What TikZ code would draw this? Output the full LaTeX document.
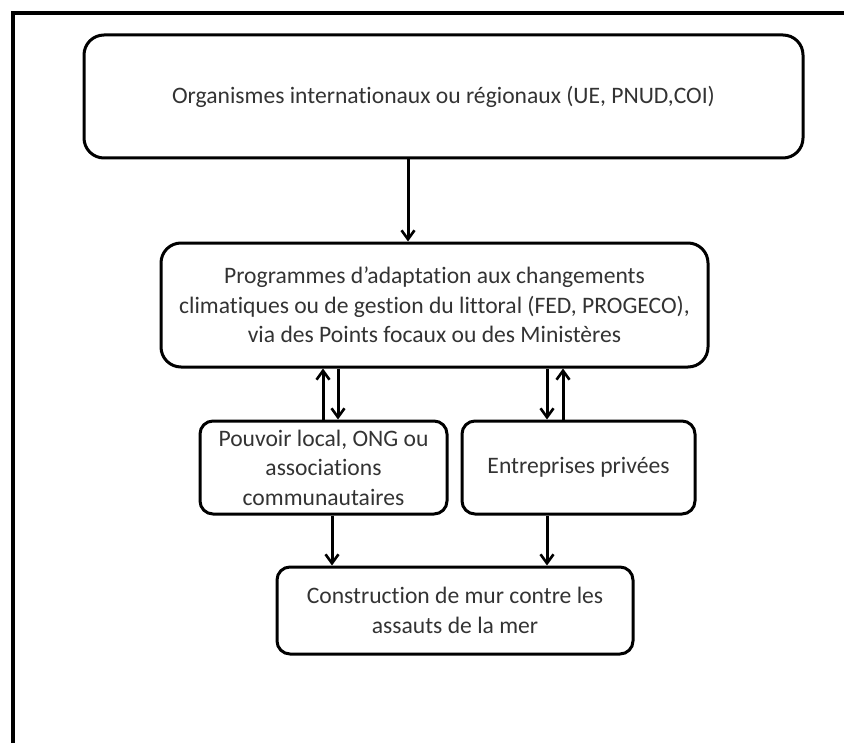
\documentclass[tikz,border=0pt]{standalone}
\usepackage{fontspec}
\setmainfont{Carlito}[Ligatures=NoCommon]
\usetikzlibrary{arrows.meta}
\begin{document}
\begin{tikzpicture}[x=0.5pt,y=-0.5pt,
  box/.style={draw=black, line width=1.5pt, rounded corners=#1, align=center,
    text=black!80, font=\fontsize{11.8}{14.7}\selectfont, inner sep=0pt},
  box/.default=9pt,
  arr/.style={line width=1.5pt, -{Straight Barb[length=4.5pt,width=6.5pt,line width=1.3pt]}},
  framestyle/.style={line width=2.3pt}]
\useasboundingbox (0,0) rectangle (844,743);
\draw[framestyle] (13,743) -- (13,13) -- (844,13);

\node[box=10pt, minimum width=359.5pt, minimum height=61.5pt] (org) at (443.5,96.5)
  {Organismes internationaux ou régionaux (UE, PNUD,COI)};
\node[box=10pt, minimum width=273.5pt, minimum height=62pt] (prog) at (434.5,305)
  {Programmes d’adaptation aux changements\\climatiques ou de gestion du littoral (FED, PROGECO),\\via des Points focaux ou des Ministères};
\node[box=6.5pt, minimum width=123.5pt, minimum height=46.5pt] (loc) at (323.5,467.5)
  {Pouvoir local, ONG ou\\associations\\communautaires};
\node[box=6.5pt, minimum width=116.5pt, minimum height=46.5pt] (ent) at (578.5,467.5)
  {Entreprises privées};
\node[box=6.5pt, minimum width=178pt, minimum height=43.5pt] (mur) at (455,610.5)
  {Construction de mur contre les\\assauts de la mer};

\coordinate (c1) at (408,0);
\coordinate (c2) at (323,0);
\coordinate (c3) at (338,0);
\coordinate (c4) at (547,0);
\coordinate (c5) at (563,0);
\coordinate (c6) at (332,0);
\coordinate (c7) at (547,0);

\draw[arr] (org.south -| c1) -- (prog.north -| c1);
\draw[arr] (loc.north -| c2) -- (prog.south -| c2);
\draw[arr] (prog.south -| c3) -- (loc.north -| c3);
\draw[arr] (prog.south -| c4) -- (ent.north -| c4);
\draw[arr] (ent.north -| c5) -- (prog.south -| c5);
\draw[arr] (loc.south -| c6) -- (mur.north -| c6);
\draw[arr] (ent.south -| c7) -- (mur.north -| c7);
\end{tikzpicture}
\end{document}
